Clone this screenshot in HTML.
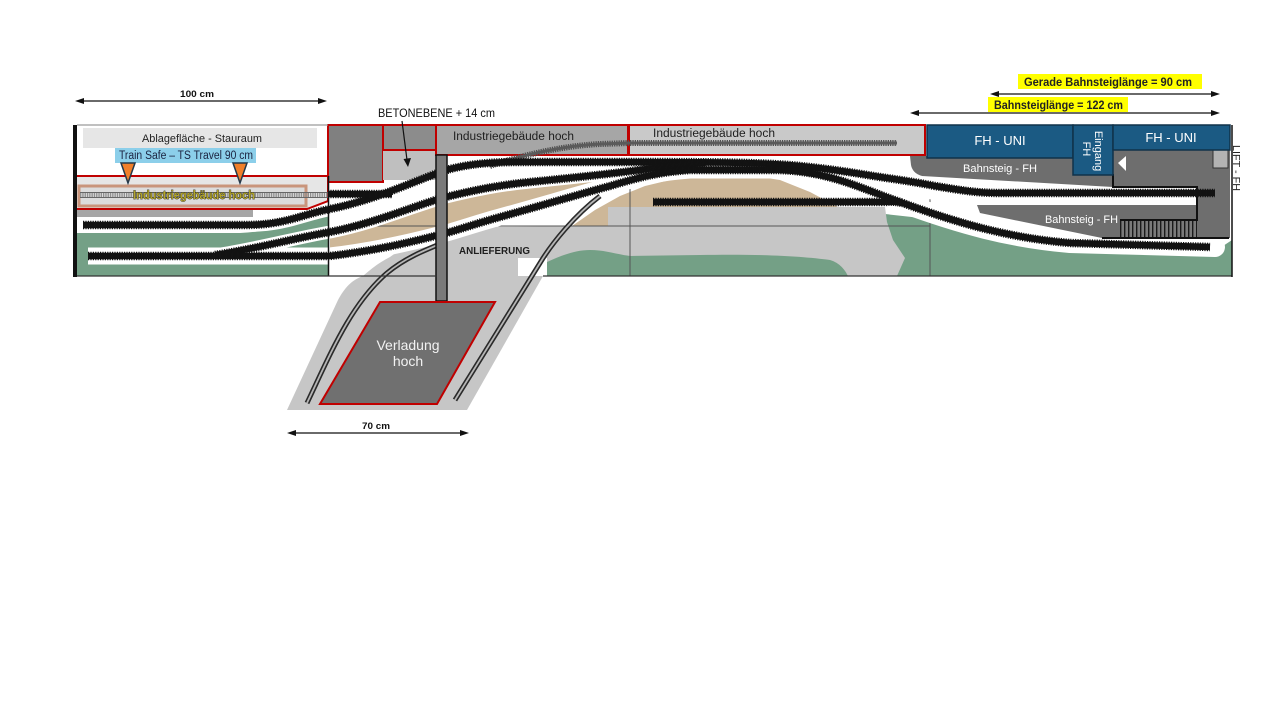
<!DOCTYPE html>
<html><head><meta charset="utf-8">
<style>html,body{margin:0;padding:0;background:#fff;width:1280px;height:720px;overflow:hidden}svg{display:block}</style>
</head>
<body>
<svg width="1280" height="720" viewBox="0 0 1280 720" xmlns="http://www.w3.org/2000/svg" font-family="'Liberation Sans Narrow','Liberation Sans',sans-serif">
<defs>
<pattern id="hatch" width="4" height="4" patternUnits="userSpaceOnUse"><rect width="4" height="4" fill="#7a7a7a"/><rect x="0" width="1.4" height="4" fill="#1a1a1a"/></pattern>
<path id="pa" d="M83,225 L245,225 C285,225 300,215 330,209 C380,199 420,178 450,169 C470,164 490,162 520,162 L610,162 C700,162 760,162 800,166 C840,170 860,174 880,177 C900,180 915,182 935,186 C960,190 975,193 1000,193 L1215,193"/>
<path id="pb" d="M215,255 C260,248 295,238 330,232 C380,222 420,203 450,196 C480,189 500,185 530,182 C570,178 600,175 640,170 C660,167 680,165 705,163"/>
<path id="pc" d="M88,256 L330,256 C380,250 420,240 450,232 C470,226 485,221 500,217 C540,206 580,194 610,186 C640,177 660,172 690,170 L780,170 C830,172 860,188 900,202 C960,224 1010,238 1070,243 L1210,247"/>
<path id="ph" d="M328,194 L392,194"/>
<path id="ps" d="M653,202 L880,202 C888,202 895,201 902,203"/>
</defs>
<rect width="1280" height="720" fill="#fff"/>

<!-- green base areas -->
<path d="M77,233 L240,233 C270,232 300,222 329,216 L329,276 L77,276 Z" fill="#74a086"/>
<path d="M885,214 L930,219 L1000,236 L1070,250 L1200,254 L1220,248 L1232,240 L1232,276 L885,276 Z" fill="#74a086"/>

<!-- sand -->
<path d="M330,232 L380,220 L420,205 L450,196 L500,185 L530,182 L570,178 L600,175 L640,170 L640,178 L610,186 L560,200 L500,217 L450,232 L420,240 L380,250 L330,256 Z" fill="#cdb798"/>
<path d="M572,226 L595,210 L620,196 L645,186 L670,180 L700,174 L740,174 L780,180 L810,192 L838,207 L608,207 L608,226 Z" fill="#cdb798"/>

<!-- light gray (Anlieferung) -->
<path d="M363,276 C372,268 380,262 390,257 C400,250 412,240 425,234 C435,230 448,227 465,227 L608,226 L608,207 L885,207 L887,222 L893,240 L905,258 L897,276 Z" fill="#c6c6c6"/>
<path d="M287,410 L338,300 C345,287 352,280 363,276 L543,276 L467,410 Z" fill="#c6c6c6"/>
<rect x="518" y="258" width="29" height="18" fill="#fff"/>
<!-- bottom green in section 2/3 -->
<path d="M547,276 L547,262 C560,256 575,250 590,250 C605,250 615,254 630,256 L700,255 C760,254 800,256 830,260 C840,263 845,270 848,276 Z" fill="#74a086"/>

<!-- section frame lines (under tracks) -->
<g stroke="#555" stroke-width="1" fill="none">
<line x1="329" y1="226" x2="930" y2="226"/>
<line x1="630" y1="155" x2="630" y2="276"/>
<line x1="930" y1="175" x2="930" y2="276"/>
</g>

<!-- white bands around tracks -->
<g fill="none" stroke="#fff">
<use href="#pa" stroke-width="14"/>
<use href="#pb" stroke-width="13"/>
<use href="#pc" stroke-width="17"/>
<path d="M880,177 C900,180 915,182 935,186 C960,190 975,193 1000,193 L1197,193" stroke-width="28"/>
<path d="M900,202 C960,224 1010,238 1070,243 L1215,247" stroke-width="20" stroke-linecap="round"/>
</g>

<!-- section 4 platforms -->
<path d="M910,156 L1113,156 L1113,187 L922,176 C915,174 912,170 911,165 Z" fill="#6e6e6e"/>
<path d="M1113,150 L1230,150 L1230,238 L1102,238 L980,213 L977,205 L1197,205 L1197,187 L1113,187 Z" fill="#6e6e6e"/>
<rect x="1120" y="221" width="77" height="16" fill="url(#hatch)"/>
<g stroke="#111" stroke-width="2" fill="none">
<polyline points="1113,174 1113,187 1197,187 1197,220 1120,220"/>
<line x1="1102" y1="238" x2="1229" y2="238"/>
</g>
<rect x="1213" y="150" width="15" height="18" fill="#b3b3b3" stroke="#333" stroke-width="1"/>
<polygon points="1118,163 1126,156 1126,171" fill="#fff"/>

<!-- section 1 upper -->
<rect x="83" y="128" width="234" height="20" fill="#e6e6e6"/>
<text x="142" y="142" font-size="11" fill="#222" textLength="120" lengthAdjust="spacingAndGlyphs">Ablagefläche - Stauraum</text>
<rect x="115" y="148" width="141" height="15" fill="#8ccfea"/>
<text x="119" y="159" font-size="11.5" fill="#1b2340" textLength="134" lengthAdjust="spacingAndGlyphs">Train Safe – TS Travel 90 cm</text>
<polygon points="76,176 328,176 328,201 307,209 76,209" fill="#e6e6e6" stroke="#c00000" stroke-width="2"/>
<rect x="79" y="186" width="227" height="20" fill="#dcdcdc" stroke="#c9957c" stroke-width="3"/>
<polygon points="121,163 135,163 128,183" fill="#f07f2a" stroke="#23384a" stroke-width="1.5"/>
<polygon points="233,163 247,163 240,183" fill="#f07f2a" stroke="#23384a" stroke-width="1.5"/>
<rect x="77" y="210" width="176" height="7" fill="#a6a6a6"/>

<!-- gray track in left box -->
<line x1="80" y1="195" x2="328" y2="195" stroke="#8f8f8f" stroke-width="6" stroke-dasharray="1.3 1"/>
<line x1="80" y1="192.5" x2="328" y2="192.5" stroke="#666" stroke-width="1"/>
<line x1="80" y1="197.5" x2="328" y2="197.5" stroke="#666" stroke-width="1"/>
<text x="133" y="199" font-size="11.5" font-weight="bold" fill="#b3a52a" stroke="#1f1f1f" stroke-width="0.7" paint-order="stroke" textLength="122" lengthAdjust="spacingAndGlyphs">Industriegebäude hoch</text>

<!-- section 2/3 top boxes -->
<rect x="328" y="125" width="55" height="57" fill="#808080" stroke="#c00000" stroke-width="2"/>
<rect x="383" y="150" width="53" height="30" fill="#bfbfbf"/>
<rect x="383" y="125" width="53" height="25" fill="#8c8c8c" stroke="#c00000" stroke-width="2"/>
<rect x="436" y="125" width="192" height="30" fill="#a6a6a6" stroke="#c00000" stroke-width="2"/>
<text x="453" y="140" font-size="11.5" fill="#1e1e1e" textLength="121" lengthAdjust="spacingAndGlyphs">Industriegebäude hoch</text>
<rect x="629" y="125" width="296" height="30" fill="#c9c9c9" stroke="#c00000" stroke-width="2"/>
<text x="653" y="137" font-size="11.5" fill="#1e1e1e" textLength="122" lengthAdjust="spacingAndGlyphs">Industriegebäude hoch</text>

<!-- industrial track (gray) -->
<path d="M490,166 C520,156 560,146 600,144 L630,143 L897,143" fill="none" stroke="#4f4f4f" stroke-width="6" stroke-dasharray="1.3 1"/>
<path d="M490,166 C520,156 560,146 600,144 L630,143 L897,143" fill="none" stroke="#5a5a5a" stroke-width="3"/>

<!-- blue FH boxes -->
<rect x="927" y="125" width="146" height="33" fill="#1b5a83" stroke="#10324a" stroke-width="1.5"/>
<text x="1000" y="145" font-size="13" fill="#fff" text-anchor="middle" font-family="'Liberation Sans',sans-serif">FH - UNI</text>
<rect x="1073" y="125" width="40" height="50" fill="#1b5a83" stroke="#10324a" stroke-width="1.5"/>
<text transform="translate(1095,151) rotate(90)" font-size="11" fill="#fff" text-anchor="middle" font-family="'Liberation Sans',sans-serif">Eingang</text>
<text transform="translate(1083,149) rotate(90)" font-size="11" fill="#fff" text-anchor="middle" font-family="'Liberation Sans',sans-serif">FH</text>
<rect x="1113" y="125" width="117" height="25" fill="#1b5a83" stroke="#10324a" stroke-width="1.5"/>
<text x="1171" y="142" font-size="13" fill="#fff" text-anchor="middle" font-family="'Liberation Sans',sans-serif">FH - UNI</text>
<text x="963" y="172" font-size="11" fill="#fff" textLength="74" lengthAdjust="spacingAndGlyphs" font-family="'Liberation Sans',sans-serif">Bahnsteig - FH</text>
<text x="1045" y="223" font-size="11" fill="#fff" textLength="73" lengthAdjust="spacingAndGlyphs" font-family="'Liberation Sans',sans-serif">Bahnsteig - FH</text>

<!-- black tracks -->
<g fill="none" stroke="#131313">
<use href="#pa" stroke-width="6.5"/>
<use href="#pa" stroke-width="8.5" stroke-dasharray="1.2 1.2"/>
<use href="#pb" stroke-width="6.5"/>
<use href="#pb" stroke-width="8.5" stroke-dasharray="1.2 1.2"/>
<use href="#pc" stroke-width="6.5"/>
<use href="#pc" stroke-width="8.5" stroke-dasharray="1.2 1.2"/>
<use href="#ph" stroke-width="6.5"/>
<use href="#ph" stroke-width="8.5" stroke-dasharray="1.2 1.2"/>
<use href="#ps" stroke-width="6.5"/>
<use href="#ps" stroke-width="8.5" stroke-dasharray="1.2 1.2"/>
</g>

<!-- delivery thin tracks -->
<g fill="none">
<path d="M307,403 C330,355 350,305 387,273 C405,258 425,250 445,242" stroke="#2a2a2a" stroke-width="5"/>
<path d="M307,403 C330,355 350,305 387,273 C405,258 425,250 445,242" stroke="#b5b5b5" stroke-width="1.8"/>
<path d="M455,400 L540,263 C552,243 575,215 600,196" stroke="#2a2a2a" stroke-width="5"/>
<path d="M455,400 L540,263 C552,243 575,215 600,196" stroke="#b5b5b5" stroke-width="1.8"/>
</g>

<!-- pillar & loading -->
<rect x="436" y="155" width="11" height="146" fill="#7a7a7a" stroke="#111" stroke-width="1.5"/>
<polygon points="380,302 495,302 437,404 320,404" fill="#707070" stroke="#c00000" stroke-width="2"/>
<text x="408" y="350" font-size="14" fill="#f2f2f2" text-anchor="middle" font-family="'Liberation Sans',sans-serif">Verladung</text>
<text x="408" y="366" font-size="14" fill="#f2f2f2" text-anchor="middle" font-family="'Liberation Sans',sans-serif">hoch</text>
<text x="459" y="254" font-size="10.5" font-weight="bold" fill="#1e1e1e" textLength="71" lengthAdjust="spacingAndGlyphs">ANLIEFERUNG</text>

<!-- frame lines -->
<rect x="73" y="125" width="4" height="152" fill="#111"/>
<line x1="77" y1="125" x2="328" y2="125" stroke="#9a9a9a" stroke-width="1.2"/>
<line x1="328.5" y1="176" x2="328.5" y2="276" stroke="#111" stroke-width="1.5"/>
<line x1="77" y1="276" x2="437" y2="276" stroke="#333" stroke-width="1.2"/>
<line x1="543" y1="276" x2="1232" y2="276" stroke="#333" stroke-width="1.2"/>
<line x1="1232" y1="125" x2="1232" y2="277" stroke="#111" stroke-width="1.5"/>
<text transform="translate(1233,145) rotate(90)" font-size="10" fill="#222" textLength="46" lengthAdjust="spacingAndGlyphs" font-family="'Liberation Sans',sans-serif">LIFT - FH</text>

<!-- dimension arrows -->
<g stroke="#111" stroke-width="1.2" fill="#111">
<line x1="78" y1="101" x2="324" y2="101"/>
<polygon points="75,101 84,98 84,104" stroke="none"/>
<polygon points="327,101 318,98 318,104" stroke="none"/>
<line x1="290" y1="433" x2="466" y2="433"/>
<polygon points="287,433 296,430 296,436" stroke="none"/>
<polygon points="469,433 460,430 460,436" stroke="none"/>
<line x1="993" y1="94" x2="1217" y2="94"/>
<polygon points="990,94 999,91 999,97" stroke="none"/>
<polygon points="1220,94 1211,91 1211,97" stroke="none"/>
<line x1="913" y1="113" x2="1217" y2="113"/>
<polygon points="910,113 919,110 919,116" stroke="none"/>
<polygon points="1220,113 1211,110 1211,116" stroke="none"/>
<line x1="402" y1="121" x2="407" y2="160"/>
<polygon points="403.5,159 411,158 408,167" stroke="none"/>
</g>
<text x="180" y="97" font-size="9" font-weight="bold" fill="#111" textLength="34" lengthAdjust="spacingAndGlyphs" font-family="'Liberation Sans',sans-serif">100 cm</text>
<text x="362" y="429" font-size="9" font-weight="bold" fill="#111" textLength="28" lengthAdjust="spacingAndGlyphs" font-family="'Liberation Sans',sans-serif">70 cm</text>
<text x="378" y="117" font-size="11.5" fill="#111" textLength="117" lengthAdjust="spacingAndGlyphs">BETONEBENE + 14 cm</text>
<rect x="1018" y="74" width="184" height="15" fill="#ffff00"/>
<text x="1024" y="86" font-size="11.5" font-weight="bold" fill="#222" textLength="168" lengthAdjust="spacingAndGlyphs">Gerade Bahnsteiglänge = 90 cm</text>
<rect x="988" y="97" width="140" height="15" fill="#ffff00"/>
<text x="994" y="109" font-size="11.5" font-weight="bold" fill="#222" textLength="129" lengthAdjust="spacingAndGlyphs">Bahnsteiglänge = 122 cm</text>
</svg>
</body>
</html>
